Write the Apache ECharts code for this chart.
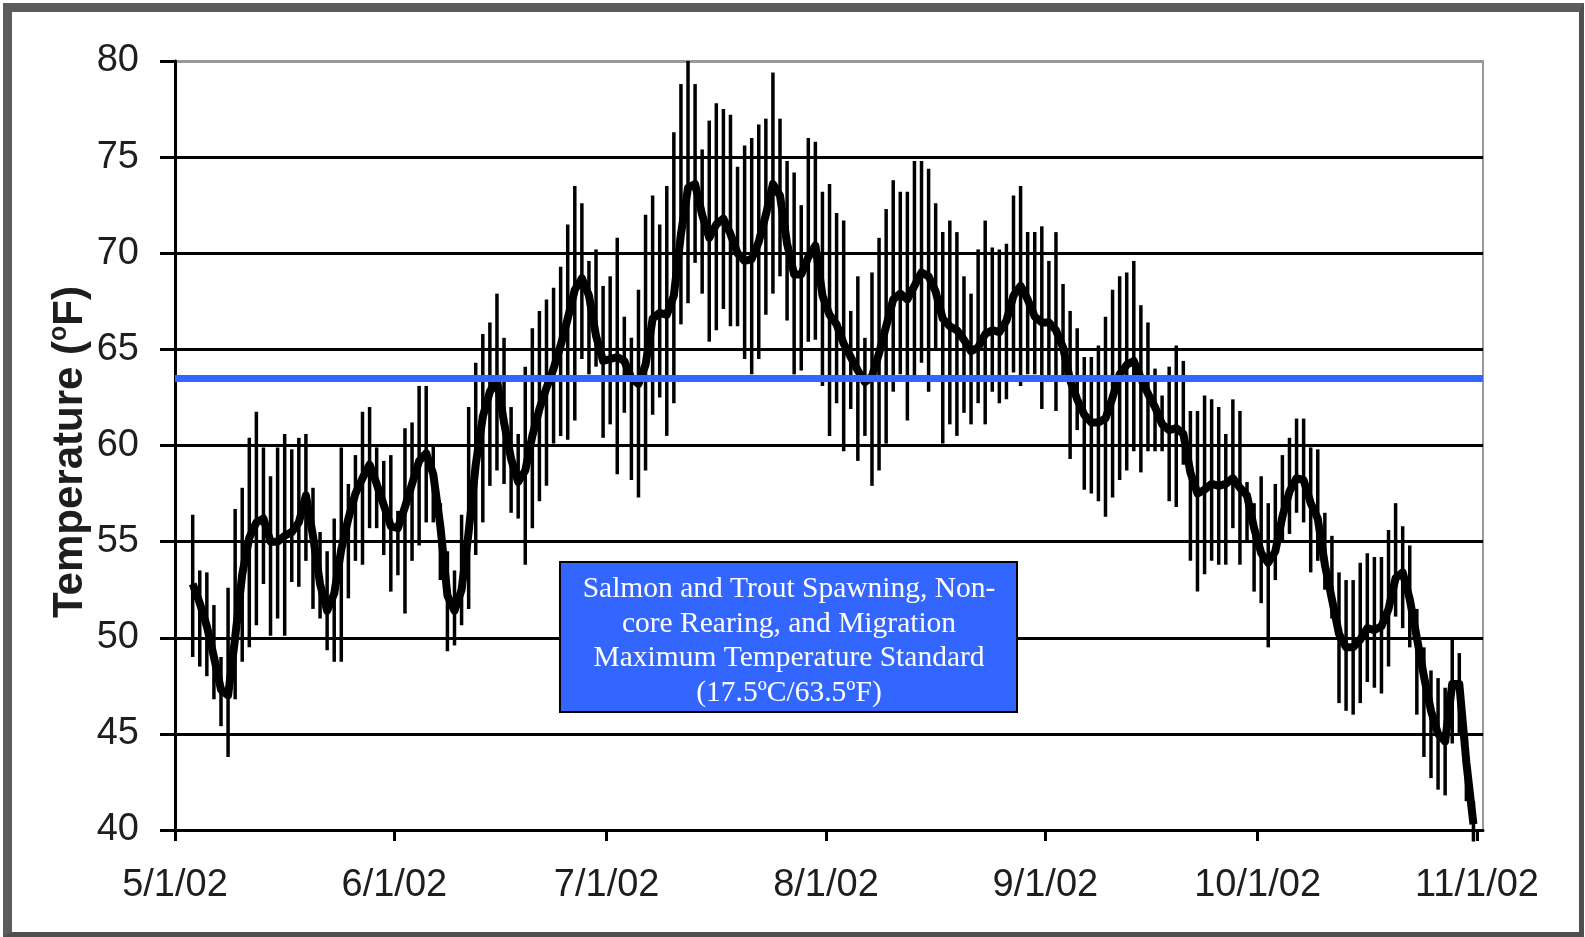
<!DOCTYPE html>
<html>
<head>
<meta charset="utf-8">
<script src="https://cdn.jsdelivr.net/npm/echarts@6/dist/echarts.min.js"></script>
<style>
  body { margin: 0; background: #fff; }
  #chart { position: absolute; left: 0; top: 0; width: 1585px; height: 937px; }
  .frame {
    position: absolute; left: 3px; top: 3px; right: 1px; bottom: 0;
    box-sizing: border-box; pointer-events: none;
    border: 5px solid #4f4f4f;
    border-left: 9px solid #5c5c5c;
    border-top: 9px solid #5c5c5c;
  }
</style>
</head>
<body>
<div id="chart"></div>
<div class="frame"></div>
<script>
// days counted from 5/1/02; first reading is on day 2 (5/3/02)
var firstDay = 2;
var tickDays = [0, 31, 61, 92, 123, 153, 184];
var tickLabels = ["5/1/02", "6/1/02", "7/1/02", "8/1/02", "9/1/02", "10/1/02", "11/1/02"];
var standardF = 63.5;

// daily maximum (°F)
var dailyMax = [
  56.4, 53.5, 53.4, 51.7, 49.0, 52.6, 56.7, 57.8, 60.4, 61.75,
  59.9, 58.4, 59.9, 60.6, 59.8, 60.4, 60.6, 57.8, 55.5, 54.5,
  56.2, 59.9, 58.0, 59.5, 61.75, 62.0, 59.9, 59.2, 59.5, 56.6,
  60.9, 61.2, 63.1, 63.1, 60.0, 57.0, 54.5, 53.5, 56.4, 62.0,
  64.3, 65.8, 66.4, 67.9, 65.6, 62.0, 60.6, 64.1, 66.1, 67.0,
  67.6, 68.2, 69.3, 71.5, 73.5, 72.6, 69.6, 70.2, 68.3, 68.8,
  70.8, 66.7, 65.6, 68.1, 72.0, 73.0, 71.5, 73.5, 76.3, 78.8,
  80.0, 78.8, 75.4, 76.9, 77.8, 77.5, 77.2, 74.5, 75.6, 76.0,
  76.7, 77.0, 79.4, 77.0, 74.8, 74.2, 72.5, 76.0, 75.8, 73.2,
  73.6, 72.1, 71.7, 67.0, 68.8, 65.6, 69.0, 70.8, 72.3, 73.8,
  73.2, 73.2, 74.8, 74.8, 74.4, 72.6, 71.1, 71.7, 71.1, 68.8,
  67.9, 70.2, 71.7, 70.3, 70.2, 70.5, 73.0, 73.5, 71.1, 71.1,
  71.4, 69.6, 71.1, 68.4, 67.0, 66.1, 64.6, 64.6, 65.2, 66.7,
  68.1, 68.8, 69.0, 69.6, 67.3, 66.4, 64.0, 62.6, 64.1, 65.2,
  64.4, 61.8, 61.8, 62.6, 62.4, 62.0, 60.6, 62.4, 61.8, 58.1,
  57.0, 58.4, 57.0, 58.0, 59.5, 60.4, 61.4, 61.4, 59.9, 59.8,
  56.5, 55.3, 53.4, 53.0, 53.0, 53.9, 54.4, 54.2, 54.2, 55.6,
  57.0, 55.8, 54.8, 51.5, 49.5, 48.3, 47.9, 47.4, 50.0, 49.2,
  45.0, 41.5
];

// daily minimum (°F)
var dailyMin = [
  49.0, 48.5, 48.0, 46.8, 45.4, 43.8, 46.8, 48.75, 49.5, 50.65,
  52.8, 50.1, 51.0, 50.1, 52.9, 52.65, 54.0, 51.5, 51.0, 49.35,
  48.75, 48.75, 52.05, 54.0, 53.8, 55.7, 55.7, 54.3, 52.4, 53.25,
  51.26, 54.0, 54.8, 56.0, 56.0, 53.0, 49.3, 49.6, 50.65, 51.5,
  54.3, 56.0, 57.9, 58.7, 58.0, 56.5, 56.2, 53.8, 55.7, 57.1,
  57.9, 60.1, 60.5, 60.3, 61.3, 64.5, 63.7, 64.1, 60.4, 61.1,
  58.5, 61.7, 58.2, 57.3, 58.7, 61.6, 62.5, 60.5, 62.2, 66.3,
  67.4, 69.5, 67.9, 65.4, 66.0, 67.1, 66.2, 66.2, 64.5, 63.7,
  64.5, 66.8, 67.9, 68.8, 66.5, 63.7, 63.9, 65.4, 65.5, 63.1,
  60.5, 62.2, 59.7, 61.9, 59.2, 60.5, 57.9, 58.7, 60.1, 62.8,
  63.7, 61.3, 63.3, 64.3, 62.8, 65.0, 60.1, 61.1, 60.5, 61.7,
  61.1, 62.2, 61.1, 62.8, 62.2, 62.4, 63.8, 63.1, 63.7, 63.7,
  61.9, 63.4, 61.8, 63.4, 59.3, 60.8, 57.7, 57.5, 57.1, 56.3,
  57.3, 58.2, 58.7, 59.7, 58.6, 59.7, 59.7, 59.7, 57.1, 56.8,
  59.0, 54.0, 52.4, 53.3, 54.0, 53.8, 53.8, 55.7, 53.8, 55.0,
  52.4, 51.8, 49.5, 53.0, 55.0, 55.4, 56.5, 56.0, 53.4, 54.0,
  52.5, 51.0, 46.6, 46.2, 46.0, 46.6, 47.7, 47.4, 47.1, 48.5,
  51.1, 50.5, 49.5, 46.0, 43.8, 42.7, 42.1, 41.8, 44.5, 45.0,
  41.5, 39.4
];

// daily mean (°F)
var dailyMean = [
  52.8, 51.8, 50.6, 49.0, 47.3, 47.0, 50.0, 53.3, 55.2, 56.0,
  56.2, 55.0, 55.0, 55.3, 55.5, 56.0, 57.4, 55.3, 52.8, 51.4,
  52.3, 54.6, 56.2, 57.5, 58.3, 59.0, 58.0, 56.9, 55.8, 55.7,
  56.8, 58.0, 59.2, 59.6, 58.5, 55.8, 52.2, 51.4, 52.5, 55.5,
  59.0, 61.5, 62.8, 63.4, 61.2, 59.3, 58.1, 58.7, 60.5, 61.9,
  63.0, 64.0, 65.2, 66.6, 68.1, 68.7, 67.8, 65.7, 64.4, 64.5,
  64.6, 64.4, 63.5, 63.2, 64.2, 66.6, 66.9, 66.8, 67.8, 71.0,
  73.4, 73.6, 72.0, 70.8, 71.5, 71.8, 71.0, 70.0, 69.6, 69.7,
  70.6, 72.0, 73.6, 73.0, 70.5, 68.9, 68.9, 69.8, 70.4, 67.8,
  66.8, 66.3, 65.3, 64.6, 63.9, 63.3, 63.6, 64.8, 66.2, 67.6,
  67.9, 67.6, 68.3, 69.0, 68.8, 68.0, 66.6, 66.2, 66.0, 65.5,
  64.9, 65.1, 65.8, 66.0, 65.9, 66.5, 67.8, 68.3, 67.6, 66.7,
  66.4, 66.4, 66.0, 65.1, 63.4, 62.4, 61.6, 61.2, 61.2, 61.4,
  62.5, 63.7, 64.2, 64.4, 63.5, 62.7, 62.0, 61.1, 60.8, 60.9,
  60.6, 58.6, 57.5, 57.7, 58.0, 57.9, 58.0, 58.3, 57.8, 57.4,
  55.7, 54.4, 53.9, 54.5, 56.3, 57.6, 58.3, 58.2, 57.0, 56.2,
  53.8, 52.0, 50.2, 49.5, 49.5, 49.9, 50.5, 50.4, 50.6, 51.5,
  53.1, 53.4, 52.0, 50.0, 48.0, 46.2, 45.0, 44.6, 47.6, 47.6,
  43.5, 40.3
];

var rangeData = dailyMax.map(function (v, i) {
  return [firstDay + i + 0.5, dailyMin[i], v];
});
var meanData = dailyMean.map(function (v, i) {
  return [firstDay + i + 0.5, v];
});

var chart = echarts.init(document.getElementById("chart"));
chart.setOption({
  animation: false,
  backgroundColor: "#fff",
  grid: {
    left: 175, right: 102, top: 61, bottom: 107,
    show: true, borderColor: "#999", borderWidth: 2
  },
  xAxis: {
    type: "value",
    min: 0,
    max: 184.85,
    axisLine: { lineStyle: { color: "#000", width: 3 } },
    axisTick: { show: true, customValues: tickDays, length: 11, lineStyle: { color: "#000", width: 3 } },
    axisLabel: {
      customValues: tickDays,
      margin: 37,
      fontFamily: "Liberation Sans",
      fontSize: 38,
      color: "#1e1e1e",
      formatter: function (v) {
        return tickLabels[tickDays.indexOf(v)];
      }
    },
    splitLine: { show: false }
  },
  yAxis: {
    type: "value",
    min: 40,
    max: 80,
    interval: 5,
    axisLine: { show: true, lineStyle: { color: "#000", width: 3 } },
    axisTick: { show: true, length: 15, lineStyle: { color: "#000", width: 3 } },
    axisLabel: {
      margin: 36,
      fontFamily: "Liberation Sans",
      fontSize: 38,
      color: "#1e1e1e"
    },
    splitLine: {
      lineStyle: {
        color: ["#000", "#000", "#000", "#000", "#000", "#000", "#000", "#000", "#999"],
        width: 3
      }
    }
  },
  graphic: [
    {
      type: "text",
      x: 70,
      y: 452,
      rotation: Math.PI / 2,
      style: {
        text: "{a|Temperature (}{s|o}{a|F)}",
        textAlign: "center",
        textVerticalAlign: "middle",
        fill: "#1e1e1e",
        rich: {
          a: { fontFamily: "Liberation Sans", fontSize: 42, fontWeight: "bold", fill: "#1e1e1e", lineHeight: 46 },
          s: { fontFamily: "Liberation Sans", fontSize: 25, fontWeight: "bold", fill: "#1e1e1e", verticalAlign: "top", lineHeight: 46 }
        }
      },
      z: 100
    },
    {
      type: "rect",
      shape: { x: 560, y: 562, width: 457, height: 150 },
      style: { fill: "#3366ff", stroke: "#000", lineWidth: 2 },
      z: 100
    },
    {
      type: "text",
      x: 789,
      y: 641,
      style: {
        text: "Salmon and Trout Spawning, Non-\ncore Rearing, and Migration\nMaximum Temperature Standard\n(17.5ºC/63.5ºF)",
        textAlign: "center",
        textVerticalAlign: "middle",
        fontFamily: "Liberation Serif",
        fontSize: 29.5,
        lineHeight: 34.5,
        fill: "#fff"
      },
      z: 101
    }
  ],
  series: [
    {
      type: "custom",
      name: "Daily range",
      clip: false,
      data: rangeData,
      z: 2,
      renderItem: function (params, api) {
        var top = api.coord([api.value(0), api.value(2)]);
        var bottom = api.coord([api.value(0), api.value(1)]);
        return {
          type: "line",
          shape: { x1: top[0], y1: top[1], x2: bottom[0], y2: bottom[1] },
          style: { stroke: "#000", lineWidth: 3.5 }
        };
      }
    },
    {
      type: "line",
      name: "Daily mean",
      data: meanData,
      symbol: "none",
      z: 3,
      lineStyle: { color: "#000", width: 8, join: "round" }
    },
    {
      type: "line",
      name: "Standard",
      data: [],
      z: 5,
      markLine: {
        silent: true,
        symbol: ["none", "none"],
        label: { show: false },
        lineStyle: { color: "#3366ff", width: 7, type: "solid" },
        data: [{ yAxis: standardF }]
      }
    }
  ]
});
</script>
</body>
</html>
